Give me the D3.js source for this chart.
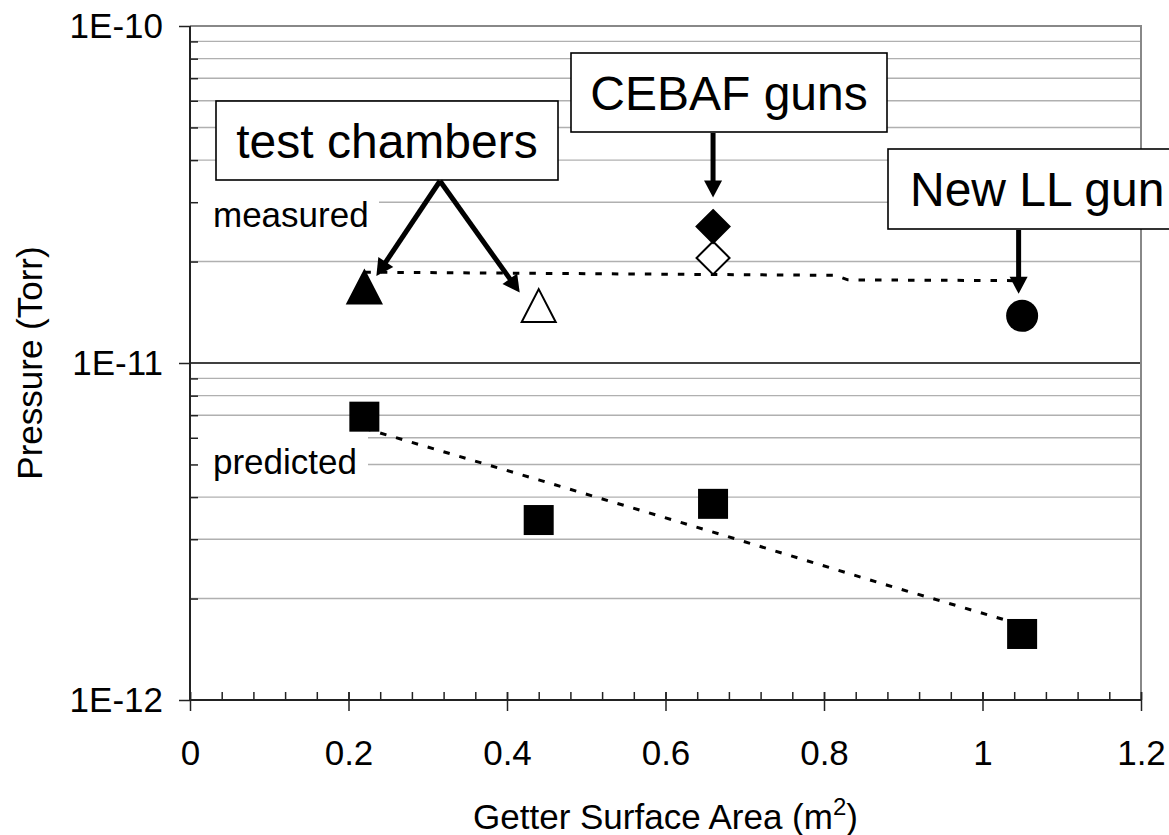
<!DOCTYPE html>
<html>
<head>
<meta charset="utf-8">
<script src="https://cdn.jsdelivr.net/npm/d3@7"></script>
<style>
  html, body { margin: 0; padding: 0; background: #fff; }
  svg { display: block; }
  text { font-family: "Liberation Sans", Arial, Helvetica, sans-serif; fill: #000; }
</style>
</head>
<body>
<svg id="chart" width="1169" height="835"></svg>
<script>
// ---- axis ticks ----
const xTicks = [0, 0.2, 0.4, 0.6, 0.8, 1, 1.2];
const xTickLabels = ["0", "0.2", "0.4", "0.6", "0.8", "1", "1.2"];
const yTicks = [1e-12, 1e-11, 1e-10];
const yTickLabels = ["1E-12", "1E-11", "1E-10"];

// ---- measured pressures (Torr) vs getter surface area (m^2) ----
const chamberArea = [0.22, 0.44];
const chamberMeasured = [1.68e-11, 1.48e-11];     // filled, open triangle
const cebafArea = [0.66, 0.66];
const cebafMeasured = [2.54e-11, 2.05e-11];       // filled, open diamond
const llGunArea = [1.05];
const llGunMeasured = [1.38e-11];

// ---- predicted pressures ----
const predictedArea = [0.22, 0.44, 0.66, 1.05];
const predictedPressure = [6.93e-12, 3.42e-12, 3.82e-12, 1.57e-12];

// ---- trend lines ----
const measuredTrendArea = [0.22, 0.815, 0.83, 1.05];
const measuredTrendPressure = [1.86e-11, 1.82e-11, 1.765e-11, 1.755e-11];
const predictedTrendArea = [0.22, 0.44, 0.66, 0.88, 1.05];
const predictedTrendPressure = [6.4e-12, 4.5e-12, 3.15e-12, 2.19e-12, 1.67e-12];

const svg = d3.select("#chart");
const L = 190, R = 1141, T = 26, B = 700;

const x = d3.scaleLinear().domain([0, 1.2]).range([L, R]);
const y = d3.scaleLog().domain([1e-12, 1e-10]).range([B, T]);

const FONT = 35;
const CALLOUT_FONT = 48;

// minor log positions 2..9 within each decade
const minorY = [];
[1e-12, 1e-11].forEach(d => { for (let k = 2; k <= 9; k++) minorY.push(k * d); });

// ---- grid ----
const grid = svg.append("g");
grid.selectAll("line.minor").data(minorY).join("line")
  .attr("x1", L).attr("x2", R)
  .attr("y1", d => y(d)).attr("y2", d => y(d))
  .attr("stroke", "#b0b0b0").attr("stroke-width", 1.4);
grid.append("line")
  .attr("x1", L).attr("x2", R).attr("y1", y(1e-11)).attr("y2", y(1e-11))
  .attr("stroke", "#000").attr("stroke-width", 1.5);
// plot border (top, right)
grid.append("path")
  .attr("d", `M${L},${y(1e-10)}H${R}V${B}`)
  .attr("fill", "none").attr("stroke", "#888").attr("stroke-width", 2);

// ---- series labels with white backing ----
function seriesLabel(txt, x0, x1, y0, y1, baseline) {
  svg.append("rect").attr("x", x0).attr("y", y0).attr("width", x1 - x0).attr("height", y1 - y0).attr("fill", "#fff");
  svg.append("text").attr("x", 213).attr("y", baseline).attr("font-size", FONT).text(txt);
}
seriesLabel("measured", L + 1, 379, 182, 250, 227);
seriesLabel("predicted", L + 1, 368, 425, 488, 474);

// ---- axes ----
const xAxis = svg.append("g").attr("transform", `translate(0,${B})`);
// minor x ticks (inside)
xAxis.call(d3.axisBottom(x).tickValues(d3.range(0, 31).map(i => i * 0.04)).tickSize(-8).tickFormat(""))
  .call(g => g.select(".domain").remove());
xAxis.selectAll("line").attr("stroke", "#222").attr("stroke-width", 1.5);
const xMajor = svg.append("g").attr("transform", `translate(0,${B})`)
  .call(d3.axisBottom(x).tickValues(xTicks).tickSize(11).tickPadding(29).tickFormat((d, i) => xTickLabels[i]));
xMajor.select(".domain").attr("stroke", "#222").attr("stroke-width", 2).attr("d", `M${L},0H${R}`);
xMajor.selectAll(".tick line").attr("y1", -8).attr("stroke", "#222").attr("stroke-width", 1.5);
xMajor.selectAll(".tick text").attr("font-size", FONT).attr("font-family", null).attr("fill", "#000");

const yMinor = svg.append("g").attr("transform", `translate(${L},0)`)
  .call(d3.axisLeft(y).tickValues(minorY).tickSize(-8).tickFormat(""));
yMinor.select(".domain").remove();
yMinor.selectAll("line").attr("stroke", "#222").attr("stroke-width", 1.5);
const yMajor = svg.append("g").attr("transform", `translate(${L},0)`)
  .call(d3.axisLeft(y).tickValues(yTicks).tickSize(11).tickPadding(16).tickFormat((d, i) => yTickLabels[i]));
yMajor.select(".domain").attr("stroke", "#222").attr("stroke-width", 2).attr("d", `M0,${T}V${B}`);
yMajor.selectAll(".tick line").attr("stroke", "#222").attr("stroke-width", 1.5);
yMajor.selectAll(".tick text").attr("font-size", FONT).attr("font-family", null).attr("fill", "#000");

// axis titles
svg.append("text")
  .attr("transform", `translate(42,${(T + B) / 2}) rotate(-90)`)
  .attr("text-anchor", "middle").attr("font-size", FONT)
  .text("Pressure (Torr)");
const xt = svg.append("text")
  .attr("x", (L + R) / 2).attr("y", 829).attr("text-anchor", "middle").attr("font-size", FONT);
xt.append("tspan").text("Getter Surface Area (m");
xt.append("tspan").attr("font-size", 24).attr("dy", -14).text("2");
xt.append("tspan").attr("dy", 14).text(")");

// ---- trend lines ----
const line = d3.line().x(d => x(d[0])).y(d => y(d[1]));
svg.append("path")
  .datum(measuredTrendArea.map((a, i) => [a, measuredTrendPressure[i]]))
  .attr("d", line).attr("fill", "none").attr("stroke", "#000")
  .attr("stroke-width", 3).attr("stroke-dasharray", "6.5,10");
svg.append("path")
  .datum(predictedTrendArea.map((a, i) => [a, predictedTrendPressure[i]]))
  .attr("d", line).attr("fill", "none").attr("stroke", "#000")
  .attr("stroke-width", 3).attr("stroke-dasharray", "6.5,10");

// ---- markers ----
function triangle(cx, cy, w, h) {
  return `M${cx},${cy - h / 2}L${cx + w / 2},${cy + h / 2}L${cx - w / 2},${cy + h / 2}Z`;
}
function diamond(cx, cy, r) {
  return `M${cx},${cy - r}L${cx + r},${cy}L${cx},${cy + r}L${cx - r},${cy}Z`;
}
const marks = svg.append("g");
marks.selectAll("path.tri").data(chamberArea.map((a, i) => [a, chamberMeasured[i], i]))
  .join("path")
  .attr("d", d => triangle(x(d[0]), y(d[1]), 34, 33))
  .attr("fill", d => d[2] === 0 ? "#000" : "#fff")
  .attr("stroke", "#000").attr("stroke-width", 2);
marks.selectAll("path.dia").data(cebafArea.map((a, i) => [a, cebafMeasured[i], i]).reverse())
  .join("path")
  .attr("d", d => diamond(x(d[0]), y(d[1]), 16.5))
  .attr("fill", d => d[2] === 0 ? "#000" : "#fff")
  .attr("stroke", "#000").attr("stroke-width", 2);
marks.selectAll("circle").data(llGunArea.map((a, i) => [a, llGunMeasured[i]]))
  .join("circle")
  .attr("cx", d => x(d[0])).attr("cy", d => y(d[1])).attr("r", 16)
  .attr("fill", "#000");
marks.selectAll("rect").data(predictedArea.map((a, i) => [a, predictedPressure[i]]))
  .join("rect")
  .attr("x", d => x(d[0]) - 15).attr("y", d => y(d[1]) - 15)
  .attr("width", 30).attr("height", 30).attr("fill", "#000");

// ---- annotations ----
function arrow(x1, y1, x2, y2) {
  const len = Math.hypot(x2 - x1, y2 - y1);
  const ux = (x2 - x1) / len, uy = (y2 - y1) / len;
  const hl = 17, hw = 9;
  const bx = x2 - ux * hl, by = y2 - uy * hl;
  svg.append("line").attr("x1", x1).attr("y1", y1).attr("x2", bx + ux * 2).attr("y2", by + uy * 2)
    .attr("stroke", "#000").attr("stroke-width", 5);
  svg.append("path")
    .attr("d", `M${x2},${y2}L${bx - uy * hw},${by + ux * hw}L${bx + uy * hw},${by - ux * hw}Z`)
    .attr("fill", "#000");
}
function callout(txt, x0, y0, w, h, tx, anchor) {
  svg.append("rect").attr("x", x0).attr("y", y0).attr("width", w).attr("height", h)
    .attr("fill", "#fff").attr("stroke", "#000").attr("stroke-width", 1.6);
  svg.append("text").attr("x", tx).attr("y", y0 + h / 2 + 17)
    .attr("text-anchor", anchor).attr("font-size", CALLOUT_FONT).text(txt);
}

callout("test chambers", 216, 101, 342, 79, 387, "middle");
arrow(440, 181, x(chamberArea[0]) + 12, y(chamberMeasured[0]) - 11);
arrow(440, 181, x(chamberArea[1]) - 19, y(chamberMeasured[1]) - 13);

callout("CEBAF guns", 571, 53, 316, 79, 729, "middle");
arrow(x(cebafArea[0]), 133, x(cebafArea[0]), y(cebafMeasured[0]) - 29);

callout("New LL gun", 888, 149, 300, 80, 910, "start");
arrow(x(llGunArea[0]) - 3.5, 230, x(llGunArea[0]) - 3.5, y(llGunMeasured[0]) - 22);
</script>
</body>
</html>
